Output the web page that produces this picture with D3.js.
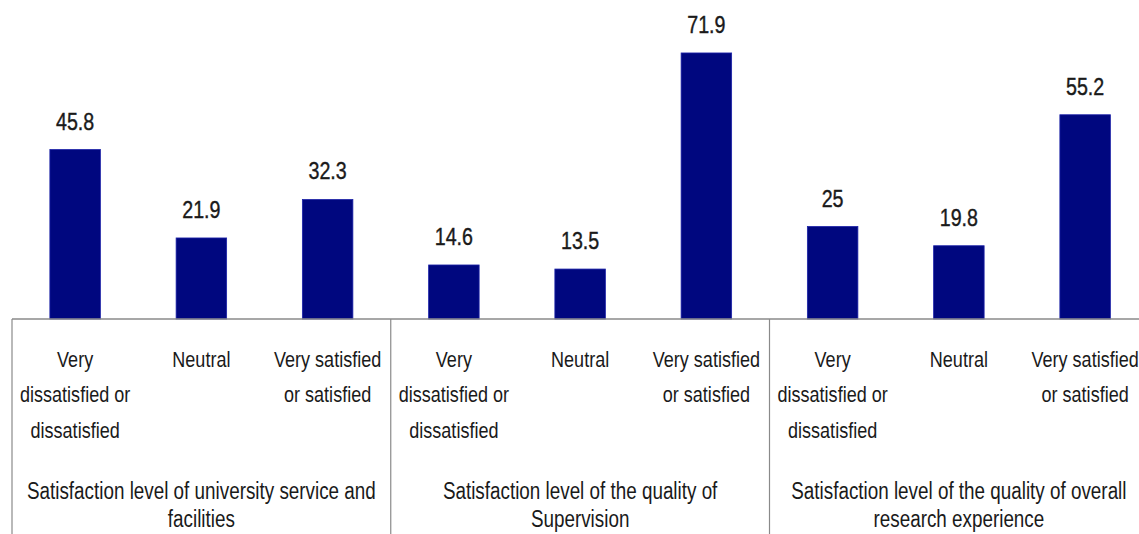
<!DOCTYPE html>
<html>
<head>
<meta charset="utf-8">
<script src="https://cdn.jsdelivr.net/npm/d3@7"></script>
<style>
  body { margin: 0; background: #fff; }
  svg { display: block; }
</style>
</head>
<body>
<div id="chart"></div>
<script>
// data
const groupLabels = [
    ["Satisfaction level of university service and", "facilities"],
    ["Satisfaction level of the quality of", "Supervision"],
    ["Satisfaction level of the quality of overall", "research experience"]
];
const categoryLabels = [
    ["Very", "dissatisfied or", "dissatisfied"],
    ["Neutral"],
    ["Very satisfied", "or satisfied"]
];
const values = [
    [45.8, 21.9, 32.3],
    [14.6, 13.5, 71.9],
    [25, 19.8, 55.2]
];

const width = 1139, height = 534;
const left = 12, step = 126.25;
const baseY = 319;
const squeeze = 0.82; // narrow the glyphs, the original font is condensed

const svg = d3.select("#chart").append("svg")
    .attr("width", width)
    .attr("height", height);

// flatten into one row per bar
const bars = [];
values.forEach((row, g) => row.forEach((v, c) => {
    bars.push({ key: `${g}-${c}`, group: g, cat: c, value: v });
}));

const x = d3.scaleBand()
    .domain(bars.map(d => d.key))
    .range([left, left + step * bars.length])
    .paddingInner(0.6)
    .paddingOuter(0.3);

const xGroup = d3.scaleBand()
    .domain(d3.range(groupLabels.length))
    .range([left, left + step * bars.length]);

const y = d3.scaleLinear()
    .domain([0, 80])
    .range([baseY, baseY - 80 * 3.7]);

const font = "'Liberation Sans', Arial, sans-serif";

// bars
svg.selectAll(".bar")
    .data(bars)
    .enter().append("rect")
    .attr("class", "bar")
    .attr("x", d => x(d.key))
    .attr("y", d => y(d.value))
    .attr("width", x.bandwidth())
    .attr("height", d => y(0) - y(d.value))
    .attr("fill", "#00077f")
    .attr("stroke", "#1c22a8")
    .attr("stroke-width", 0.8);

// value labels
svg.selectAll(".val")
    .data(bars)
    .enter().append("text")
    .attr("class", "val")
    .attr("transform", d => `translate(${x(d.key) + x.bandwidth() / 2},${y(d.value) - 20}) scale(${squeeze},1)`)
    .attr("text-anchor", "middle")
    .style("font-family", font)
    .style("font-size", "24px")
    .style("fill", "#1a1a1a")
    .style("stroke", "#1a1a1a")
    .style("stroke-width", 0.4)
    .text(d => d.value);

// table lines under the bars
svg.append("line")
    .attr("x1", left).attr("x2", width)
    .attr("y1", baseY).attr("y2", baseY)
    .attr("stroke", "#8a8a8a")
    .attr("stroke-width", 1.5);

svg.selectAll(".divider")
    .data(xGroup.domain())
    .enter().append("line")
    .attr("class", "divider")
    .attr("x1", d => xGroup(d)).attr("x2", d => xGroup(d))
    .attr("y1", baseY).attr("y2", height)
    .attr("stroke", "#8a8a8a")
    .attr("stroke-width", 1.2);

// category labels
const catText = svg.selectAll(".cat")
    .data(bars)
    .enter().append("text")
    .attr("class", "cat")
    .attr("transform", d => `translate(${x(d.key) + x.bandwidth() / 2},0) scale(${squeeze},1)`)
    .attr("text-anchor", "middle")
    .style("font-family", font)
    .style("font-size", "22px")
    .style("fill", "#1a1a1a");

catText.selectAll("tspan")
    .data(d => categoryLabels[d.cat])
    .enter().append("tspan")
    .attr("x", 0)
    .attr("y", (t, i) => 367 + i * 35.5)
    .text(t => t);

// group labels
const grpText = svg.selectAll(".grp")
    .data(xGroup.domain())
    .enter().append("text")
    .attr("class", "grp")
    .attr("transform", g => `translate(${xGroup(g) + xGroup.bandwidth() / 2},0) scale(${squeeze},1)`)
    .attr("text-anchor", "middle")
    .style("font-family", font)
    .style("font-size", "23px")
    .style("fill", "#1a1a1a");

grpText.selectAll("tspan")
    .data(g => groupLabels[g])
    .enter().append("tspan")
    .attr("x", 0)
    .attr("y", (t, i) => 499 + i * 28)
    .text(t => t);
</script>
</body>
</html>
